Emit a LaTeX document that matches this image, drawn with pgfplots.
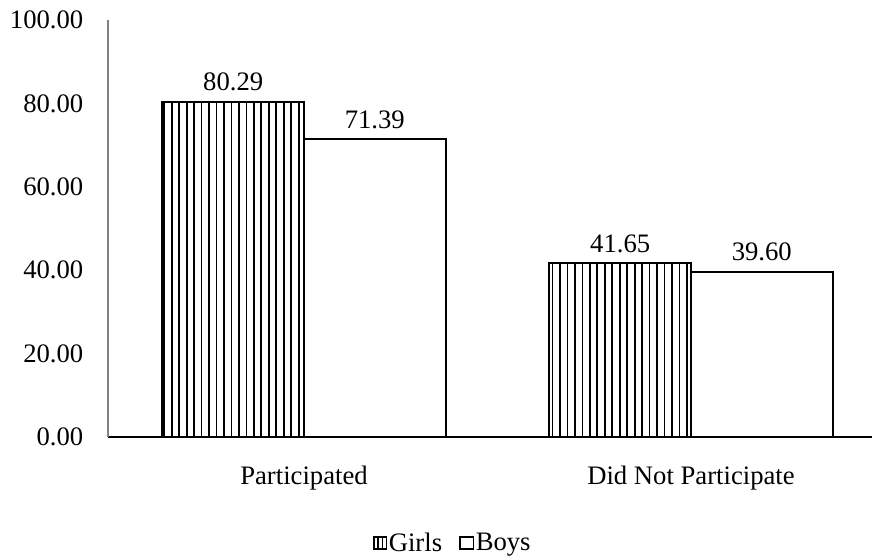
\documentclass[border=0pt]{standalone}
\usepackage{fontspec}
\setmainfont{Liberation Serif}
\usepackage{pgfplots}
\pgfplotsset{compat=1.18}
\usetikzlibrary{patterns.meta}

\pgfplotstableread{
x  girls  boys
0  80.29  71.39
1  41.65  39.60
}\participation

\begin{document}
\begin{tikzpicture}[x=0.75pt,y=0.75pt]
\begin{axis}[
  at={(0,0)}, anchor=south west,
  scale only axis,
  width=573pt, height=312.75pt,
  xmin=-0.5065, xmax=1.4677,
  ymin=0, ymax=100,
  ytick={0,20,...,100},
  yticklabel style={/pgf/number format/fixed, /pgf/number format/fixed zerofill,
    /pgf/number format/precision=2, xshift=-15pt},
  /pgf/number format/assume math mode=true,
  xtick={0,1},
  xticklabels={Participated, Did Not Participate},
  major tick length=0pt,
  tick style={draw=none},
  axis x line*=bottom,
  axis y line*=left,
  x axis line style={black, line width=0.8pt, -},
  y axis line style={gray, line width=0.9pt, -},
  tick label style={font=\fontsize{20}{24}\selectfont},
  xticklabel style={yshift=-18pt},
  ybar, bar width=0.366,
  nodes near coords={\pgfmathprintnumber[fixed,fixed zerofill,precision=2]{\pgfplotspointmeta}},
  nodes near coords style={yshift=4pt, font=\fontsize{20}{24}\selectfont},
  legend style={at={(0.451,-0.254)}, anchor=center, draw=none,
    legend columns=2, font=\fontsize{20}{24}\selectfont,
    nodes={inner xsep=1pt},
    /tikz/every even column/.append style={column sep=12pt}},
]
% Girls: vertically hatched bars
\addplot[forget plot, draw=black, line width=1.6pt, bar shift=-0.183,
  pattern={Lines[distance=5.6pt, angle=90, line width=1.3pt]}, pattern color=black]
  table[x=x, y=girls] {\participation};
% Boys: plain white bars
\addplot[forget plot, draw=black, line width=1.6pt, fill=white, bar shift=0.183]
  table[x=x, y=boys] {\participation};
\addlegendimage{legend image code/.code={
    \path[draw=black, fill=white, line width=1.2pt] (0pt,-4.5pt) rectangle (9.5pt,4.5pt);
    \path[draw=black, line width=1.2pt] (3.2pt,-4.5pt) -- (3.2pt,4.5pt);
    \path[draw=black, line width=1.2pt] (6.3pt,-4.5pt) -- (6.3pt,4.5pt);}}
\addlegendentry{Girls}
\addlegendimage{legend image code/.code={
    \path[draw=black, fill=white, line width=1.2pt] (0pt,-4.5pt) rectangle (10pt,4.5pt);}}
\addlegendentry{Boys}
\end{axis}
\pgfresetboundingbox
\path (-108,-123) rectangle (764,437);
\end{tikzpicture}
\end{document}
